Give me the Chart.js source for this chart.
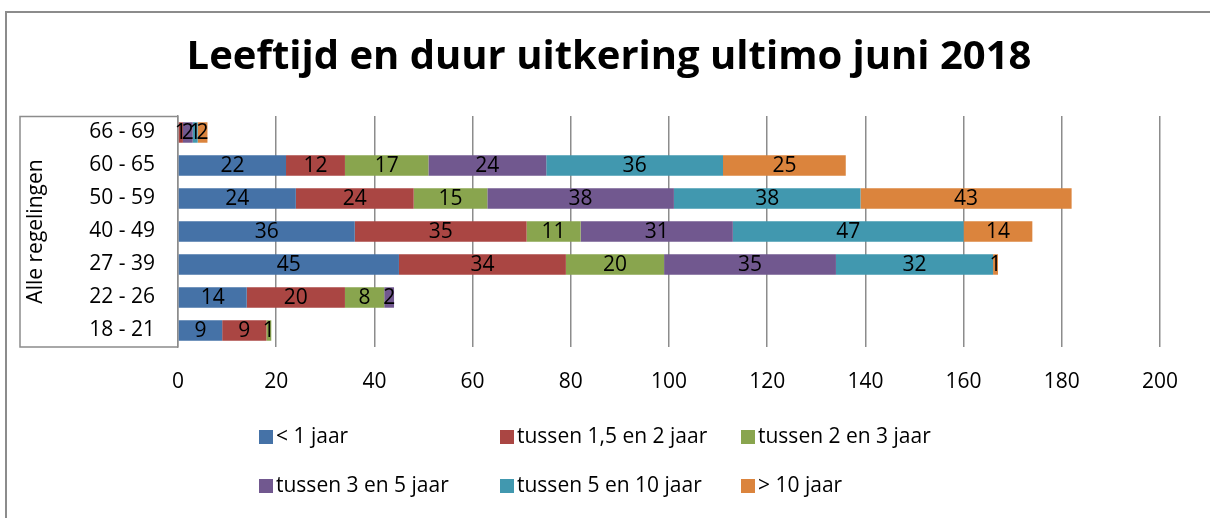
<!DOCTYPE html>
<html>
<head>
<meta charset="utf-8">
<script src="https://cdn.jsdelivr.net/npm/chart.js@4/dist/chart.umd.min.js"></script>
<style>
  html, body { margin: 0; padding: 0; background: #fff; }
  #wrap { position: relative; width: 1210px; height: 518px; overflow: hidden; }
  #frame { position: absolute; left: 5px; top: 11px; width: 1300px; height: 600px;
           border-left: 2px solid #8c8c8c; border-top: 2px solid #8c8c8c; }
  canvas { position: absolute; left: 0; top: 0; }
</style>
</head>
<body>
<div id="wrap">
  <div id="frame"></div>
  <canvas id="chart" width="1210" height="518"></canvas>
</div>
<script>
// leeftijdsklassen, van boven naar beneden
const categories = ['66 - 69', '60 - 65', '50 - 59', '40 - 49', '27 - 39', '22 - 26', '18 - 21'];
const groupLabel = 'Alle regelingen';

const seriesNames = ['< 1 jaar', 'tussen 1,5 en 2 jaar', 'tussen 2 en 3 jaar',
                     'tussen 3 en 5 jaar', 'tussen 5 en 10 jaar', '> 10 jaar'];
const seriesColors = ['#4572A7', '#AA4643', '#89A54E', '#71588F', '#4198AF', '#DB843D'];

const lessThan1   = [0, 22, 24, 36, 45, 14, 9];
const between15_2 = [1, 12, 24, 35, 34, 20, 9];
const between2_3  = [0, 17, 15, 11, 20, 8, 1];
const between3_5  = [2, 24, 38, 31, 35, 2, 0];
const between5_10 = [1, 36, 38, 47, 32, 0, 0];
const moreThan10  = [2, 25, 43, 14, 1, 0, 0];

const xTicks = [0, 20, 40, 60, 80, 100, 120, 140, 160, 180, 200];

const FONT = 'Open Sans';

let seriesValues = [lessThan1, between15_2, between2_3, between3_5, between5_10, moreThan10];

let datasets = seriesNames.map(function(name, i){
  return {
    label: name,
    data: seriesValues[i],
    backgroundColor: seriesColors[i],
    borderWidth: 0,
    categoryPercentage: 1,
    barPercentage: 0.62
  };
});

// numbers in the middle of every segment
let segmentLabels = {
  id: 'segmentLabels',
  afterDatasetsDraw(chart) {
    let ctx = chart.ctx;
    ctx.save();
    ctx.font = '21px "' + FONT + '"';
    ctx.fillStyle = '#000';
    ctx.textAlign = 'center';
    ctx.textBaseline = 'middle';
    chart.data.datasets.forEach(function(ds, i){
      chart.getDatasetMeta(i).data.forEach(function(bar, j){
        if (!ds.data[j]) return;
        ctx.fillText(ds.data[j], (bar.x + bar.base) / 2, bar.y + 1);
      });
    });
    ctx.restore();
  }
};

// box around the category labels and the rotated group name
let categoryBox = {
  id: 'categoryBox',
  afterDraw(chart) {
    let ctx = chart.ctx;
    let a = chart.chartArea;
    let left = 20;
    ctx.save();
    ctx.strokeStyle = '#8c8c8c';
    ctx.lineWidth = 1.5;
    ctx.beginPath();
    ctx.moveTo(a.left, a.top + 0.5);
    ctx.lineTo(left, a.top + 0.5);
    ctx.lineTo(left, a.bottom);
    ctx.lineTo(a.left, a.bottom);
    ctx.stroke();

    ctx.translate(36, (a.top + a.bottom) / 2);
    ctx.rotate(-Math.PI / 2);
    ctx.font = '21px "' + FONT + '"';
    ctx.fillStyle = '#000';
    ctx.textAlign = 'center';
    ctx.textBaseline = 'middle';
    ctx.fillText(groupLabel, 0, 0);
    ctx.restore();
  }
};

// legend laid out in fixed columns, like the original
let gridLegend = {
  id: 'gridLegend',
  afterDraw(chart) {
    let ctx = chart.ctx;
    let cols = [259, 500, 741];
    let rows = [437, 486];
    ctx.save();
    ctx.font = '21px "' + FONT + '"';
    ctx.textBaseline = 'middle';
    ctx.textAlign = 'left';
    chart.data.datasets.forEach(function(ds, i){
      let x = cols[i % 3];
      let y = rows[Math.floor(i / 3)];
      ctx.fillStyle = ds.backgroundColor;
      ctx.fillRect(x, y - 7, 14, 14);
      ctx.fillStyle = '#000';
      ctx.fillText(ds.label, x + 17, y);
    });
    ctx.restore();
  }
};

Chart.defaults.font.family = FONT;
Chart.defaults.color = '#000';

new Chart(document.getElementById('chart'), {
  type: 'bar',
  data: { labels: categories, datasets: datasets },
  options: {
    indexAxis: 'y',
    responsive: false,
    animation: false,
    // left padding keeps the title centred where the original has it
    layout: { padding: { top: 0, right: 50, bottom: 121, left: 58 } },
    plugins: {
      legend: { display: false },
      tooltip: { enabled: false },
      title: {
        display: true,
        text: 'Leeftijd en duur uitkering ultimo juni 2018',
        font: { size: 40, weight: 'bold', family: FONT },
        color: '#000',
        padding: { top: 34, bottom: 34 }
      }
    },
    scales: {
      x: {
        stacked: true,
        min: 0,
        max: 200,
        afterFit: function(scale){ scale.height = 50; },
        afterBuildTicks: function(scale){ scale.ticks = xTicks.map(v => ({ value: v })); },
        grid: { color: '#8c8c8c', lineWidth: 1.5, drawTicks: false },
        border: { display: false },
        ticks: { font: { size: 21 }, padding: 22, maxRotation: 0 }
      },
      y: {
        stacked: true,
        afterFit: function(scale){ scale.width = 120; },
        grid: { display: false, drawTicks: false },
        border: { display: true, color: '#8c8c8c', width: 1.5 },
        ticks: { font: { size: 21 }, padding: 23 }
      }
    }
  },
  plugins: [segmentLabels, categoryBox, gridLegend]
});
</script>
</body>
</html>
